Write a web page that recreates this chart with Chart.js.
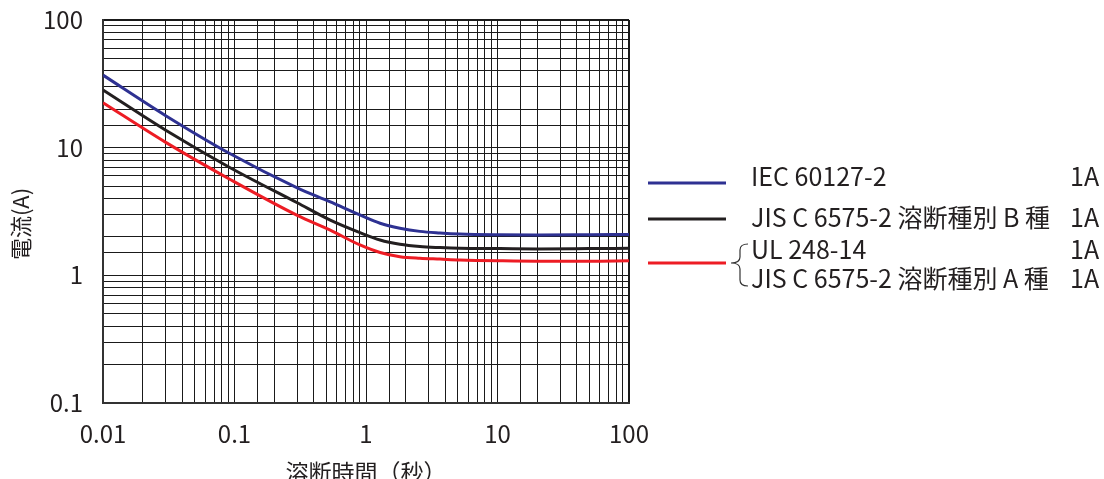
<!DOCTYPE html>
<html lang="ja">
<head>
  <meta charset="UTF-8">
  <title>溶断特性</title>
  <script src="https://cdn.jsdelivr.net/npm/chart.js"></script>
  <style>
    body {
      margin: 0;
      padding: 0;
      background: #ffffff;
      overflow: hidden;
    }
    #wrap {
      position: relative;
      width: 1104px;
      height: 479px;
    }
  </style>
</head>
<body>
  <div id="wrap">
    <canvas id="chart"></canvas>
  </div>

  <script>
    // 溶断時間（秒）
    const timeSec = [0.01, 0.03, 0.092, 0.3, 0.53, 0.9, 1.28, 1.81, 2.57, 3.65, 5.18, 10.4, 20, 50, 100];

    // 電流(A)
    const iec60127 = [37, 17.8, 9.0, 4.85, 3.78, 2.97, 2.56, 2.34, 2.21, 2.15, 2.11, 2.08, 2.07, 2.08, 2.09];
    const jisB     = [28.3, 13.7, 7.0, 3.7, 2.72, 2.16, 1.89, 1.75, 1.68, 1.65, 1.63, 1.62, 1.61, 1.62, 1.63];
    const ulJisA   = [22.5, 11.0, 5.66, 2.95, 2.27, 1.73, 1.51, 1.40, 1.36, 1.34, 1.32, 1.30, 1.29, 1.29, 1.30];

    const xTicks = [0.01, 0.1, 1, 10, 100];
    const yTicks = [0.1, 1, 10, 100];

    const xTitle = '溶断時間（秒）';
    const yTitle = '電流(A)';

    // 凡例
    const legendNames = ['IEC 60127-2', 'JIS C 6575-2 溶断種別 B 種', 'UL 248-14', 'JIS C 6575-2 溶断種別 A 種'];
    const legendRating = ['1A', '1A', '1A', '1A'];
    const seriesColors = ['#2e3192', '#231f20', '#ed1c24'];

    const FONT = '"Noto Sans CJK JP", "Noto Sans", sans-serif';
    const TEXT = '#231f20';

    const toXY = (ys) => ys.map((y, i) => ({ x: timeSec[i], y: y }));

    const isMajor = (v, list) => list.some(t => Math.abs(t - v) < t * 1e-6);

    // 軸タイトルと凡例は自前で描く
    const extras = {
      id: 'extras',
      afterDraw(chart) {
        const ctx = chart.ctx;
        const area = chart.chartArea;
        ctx.save();
        ctx.fillStyle = TEXT;
        ctx.font = '23px ' + FONT;
        ctx.textAlign = 'center';
        ctx.textBaseline = 'middle';
        ctx.fillText(xTitle, (area.left + area.right) / 2, 472);

        ctx.font = '22px ' + FONT;
        ctx.save();
        ctx.translate(21, 224);
        ctx.rotate(-Math.PI / 2);
        ctx.fillText(yTitle, 0, 0);
        ctx.restore();

        // 凡例の線
        const lineY = [183, 219, 263];
        ctx.lineWidth = 3;
        seriesColors.forEach((c, i) => {
          ctx.strokeStyle = c;
          ctx.beginPath();
          ctx.moveTo(648, lineY[i]);
          ctx.lineTo(726, lineY[i]);
          ctx.stroke();
        });

        // 凡例の文字
        const textY = [176, 217, 249, 278];
        ctx.font = '25px ' + FONT;
        ctx.textAlign = 'left';
        legendNames.forEach((t, i) => {
          ctx.fillText(t, 751, textY[i]);
          ctx.fillText(legendRating[i], 1070, textY[i]);
        });

        // 波かっこ
        ctx.strokeStyle = '#333';
        ctx.lineWidth = 1.2;
        ctx.beginPath();
        ctx.moveTo(748, 244);
        ctx.quadraticCurveTo(740, 244, 740, 250);
        ctx.lineTo(740, 257);
        ctx.quadraticCurveTo(740, 263, 731, 263);
        ctx.quadraticCurveTo(740, 263, 740, 269);
        ctx.lineTo(740, 280);
        ctx.quadraticCurveTo(740, 286, 748, 286);
        ctx.stroke();
        ctx.restore();
      }
    };

    const gridWidth = (ctx) => {
      const v = ctx.tick && ctx.tick.value;
      return (ctx.index === 0 || isMajor(v, [100])) ? 2 : 1;
    };

    new Chart(document.getElementById('chart'), {
      type: 'line',
      data: {
        datasets: [
          { data: toXY(iec60127), borderColor: seriesColors[0] },
          { data: toXY(jisB), borderColor: seriesColors[1] },
          { data: toXY(ulJisA), borderColor: seriesColors[2] }
        ]
      },
      options: {
        responsive: true,
        maintainAspectRatio: false,
        animation: false,
        layout: { padding: { top: 20, right: 475, left: 0, bottom: 0 } },
        elements: {
          point: { radius: 0 },
          line: { borderWidth: 3, cubicInterpolationMode: 'monotone', fill: false }
        },
        plugins: {
          legend: { display: false },
          tooltip: { enabled: false }
        },
        scales: {
          x: {
            type: 'logarithmic',
            min: 0.01,
            max: 100,
            afterFit(scale) {
              scale.height = 76;
              scale.paddingLeft = 0;
              scale.paddingRight = 0;
            },
            border: { display: true, color: '#333', width: 2 },
            grid: { color: '#1a1a1a', lineWidth: gridWidth, drawTicks: false },
            ticks: {
              autoSkip: false,
              maxRotation: 0,
              padding: 16,
              color: TEXT,
              font: { family: FONT, size: 24 },
              callback: (v) => isMajor(v, xTicks) ? String(v) : ''
            }
          },
          y: {
            type: 'logarithmic',
            min: 0.1,
            max: 100,
            afterFit(scale) {
              scale.width = 103;
              scale.paddingTop = 0;
              scale.paddingBottom = 0;
            },
            border: { display: true, color: '#333', width: 2 },
            grid: { color: '#1a1a1a', lineWidth: gridWidth, drawTicks: false },
            ticks: {
              autoSkip: false,
              padding: 20,
              color: TEXT,
              font: { family: FONT, size: 24 },
              callback: (v) => isMajor(v, yTicks) ? String(v) : ''
            }
          }
        }
      },
      plugins: [extras]
    });
  </script>
</body>
</html>
